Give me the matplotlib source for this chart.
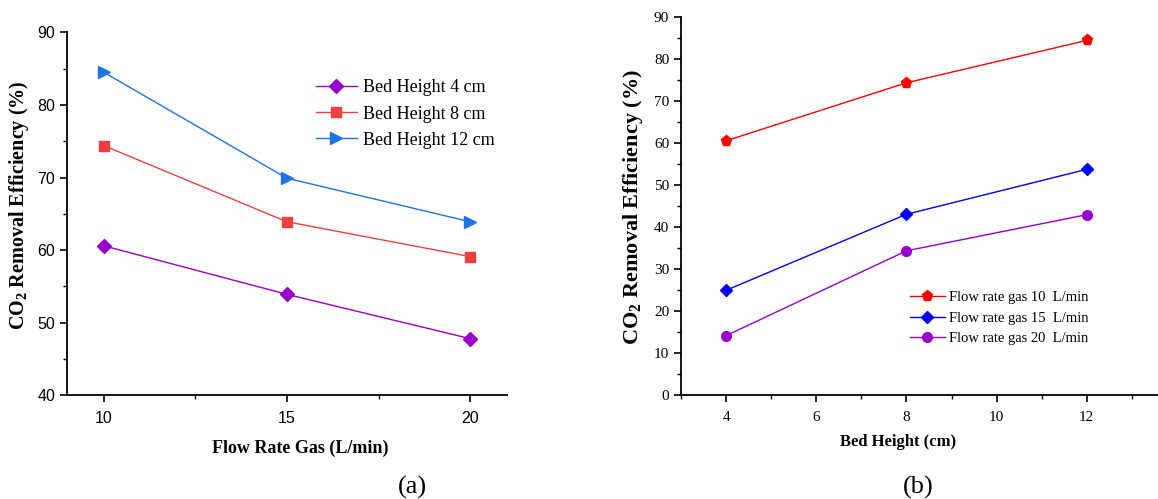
import matplotlib
matplotlib.use("Agg")
import matplotlib.pyplot as plt
from matplotlib.ticker import MultipleLocator

# Panel (a) data
flow_rates = [10, 15, 20]
bh4 = [60.6, 53.9, 47.8]
bh8 = [74.4, 63.9, 59.1]
bh12 = [84.5, 69.9, 63.9]
labels_a = ["Bed Height 4 cm", "Bed Height 8 cm", "Bed Height 12 cm"]

# Panel (b) data
bed_heights = [4, 8, 12]
fr10 = [60.6, 74.4, 84.5]
fr15 = [25.0, 43.1, 53.8]
fr20 = [14.2, 34.4, 43.0]
labels_b = ["Flow rate gas 10  L/min", "Flow rate gas 15  L/min", "Flow rate gas 20  L/min"]

SERIF = "Liberation Serif"
SANS = "Liberation Sans"

plt.rcParams["mathtext.fontset"] = "custom"
plt.rcParams["mathtext.rm"] = "Liberation Serif"
plt.rcParams["mathtext.bf"] = "Liberation Serif:bold"
plt.rcParams["mathtext.it"] = "Liberation Serif:italic"

fig = plt.figure(figsize=(11.58, 4.99), dpi=100)

W, H = 1158, 499
def rect(l, r, t, b):
    return [l / W, 1 - b / H, (r - l) / W, (b - t) / H]

ax1 = fig.add_axes(rect(67, 507, 32.3, 395.3))
ax2 = fig.add_axes(rect(681, 1158, 17.3, 395.3))

for ax in (ax1, ax2):
    ax.spines["top"].set_visible(False)
    ax.spines["right"].set_visible(False)
    for s in ("left", "bottom"):
        ax.spines[s].set_linewidth(1.3)
    ax.tick_params(which="major", direction="out", length=5, width=1.2)
    ax.tick_params(which="minor", direction="out", length=3, width=1.0)

ylabel_text = r"CO$_\mathbf{2}$ Removal Efficiency (%)"

# ---- Panel (a)
ax1.plot(flow_rates, bh4, color="#9A00CC", marker="D", markersize=7, lw=1.0, label=labels_a[0])
ax1.plot(flow_rates, bh8, color="#EE4040", marker="s", markersize=6.5, lw=1.0, label=labels_a[1])
ax1.plot(flow_rates, bh12, color="#1E73E8", marker=">", markersize=8.5, lw=1.0, label=labels_a[2])
ax1.set_xlim(9, 21)
ax1.set_ylim(40, 90)
ax1.set_xticks([10, 15, 20])
ax1.set_yticks([40, 50, 60, 70, 80, 90])
ax1.xaxis.set_minor_locator(MultipleLocator(2.5))
ax1.yaxis.set_minor_locator(MultipleLocator(5))
for lab in ax1.get_xticklabels() + ax1.get_yticklabels():
    lab.set_fontfamily(SANS)
    lab.set_fontsize(11.5)
ax1.tick_params(axis="x", pad=6)
ax1.set_xlabel("Flow Rate Gas (L/min)", fontfamily=SERIF, fontweight="bold", fontsize=13, va="center")
ax1.set_ylabel(ylabel_text, fontfamily=SERIF, fontweight="bold", fontsize=14.5, va="center")
ax1.xaxis.set_label_coords(0.53, -0.145)
ax1.yaxis.set_label_coords(-0.108, 0.524)
ax1.legend(loc="upper left", bbox_to_anchor=(0.565, 0.87), frameon=False,
           prop={"family": SERIF, "size": 13}, handlelength=2.3,
           handletextpad=0.3, labelspacing=0.5, borderpad=0, borderaxespad=0)

# ---- Panel (b)
ax2.plot(bed_heights, fr10, color="#FF0000", marker="p", markersize=8, lw=1.0, label=labels_b[0])
ax2.plot(bed_heights, fr15, color="#0000FF", marker="D", markersize=6.5, lw=1.0, label=labels_b[1])
ax2.plot(bed_heights, fr20, color="#9A00CC", marker="o", markersize=7, lw=1.0, label=labels_b[2])
ax2.set_xlim(3, 13.58)
ax2.set_ylim(0, 90)
ax2.set_xticks([4, 6, 8, 10, 12])
ax2.set_yticks(range(0, 91, 10))
ax2.xaxis.set_minor_locator(MultipleLocator(1))
ax2.yaxis.set_minor_locator(MultipleLocator(5))
for lab in ax2.get_xticklabels() + ax2.get_yticklabels():
    lab.set_fontfamily(SERIF)
    lab.set_fontsize(11)
ax2.tick_params(axis="x", pad=6)
ax2.set_xlabel("Bed Height (cm)", fontfamily=SERIF, fontweight="bold", fontsize=12, va="center")
ax2.set_ylabel(ylabel_text, fontfamily=SERIF, fontweight="bold", fontsize=16, va="center")
ax2.xaxis.set_label_coords(0.456, -0.123)
ax2.yaxis.set_label_coords(-0.10, 0.497)
ax2.legend(loc="upper left", bbox_to_anchor=(0.48, 0.276), frameon=False,
           prop={"family": SERIF, "size": 10.5}, handlelength=2.4,
           handletextpad=0.3, labelspacing=0.5, borderpad=0, borderaxespad=0)

fig.text(412 / W, 1 - 487 / H, "(a)", fontfamily=SERIF, fontsize=19, ha="center", va="center")
fig.text(918 / W, 1 - 487 / H, "(b)", fontfamily=SERIF, fontsize=19, ha="center", va="center")

fig.savefig("out.png", dpi=100)
